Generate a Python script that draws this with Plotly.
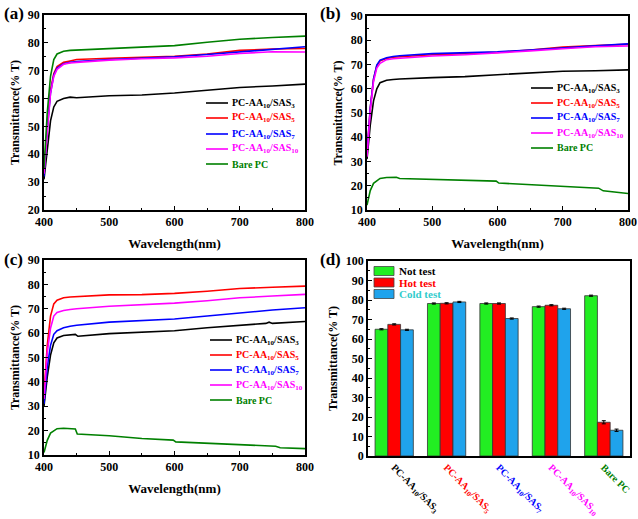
import plotly.graph_objects as go

# ---------------- data ----------------
wl = [400, 405, 410, 415, 420, 430, 440, 450, 500, 550, 600, 650, 700, 750, 800]

a_sas3 = [31, 42, 52, 57, 59, 60, 60.5, 60.3, 61, 61.3, 62, 63, 64, 64.5, 65.2]
a_sas5 = [33, 50, 63, 69, 71.5, 73, 73.5, 74, 74.5, 74.8, 75.2, 76, 77.3, 77.8, 78]
a_sas7 = [32, 49, 62, 68.5, 71, 72.5, 73, 73.3, 74, 74.5, 75, 75.8, 76.8, 77.8, 78.6]
a_sas10 = [33, 49, 62, 68, 70.5, 72.3, 72.8, 73, 73.8, 74.3, 74.6, 75.2, 76.2, 76.8, 76.7]
a_bare = [35, 55, 68, 74, 76, 77, 77.3, 77.4, 78.1, 78.4, 79, 80.2, 81.3, 81.9, 82.4]

b_sas3 = [31, 45, 55, 60, 62.5, 63.5, 63.8, 64, 64.6, 65, 65.8, 66.5, 67.2, 67.4, 67.8]
b_sas5 = [33, 52, 64, 69.5, 71.5, 72.5, 73, 73.2, 74, 74.5, 75, 76, 77.2, 77.8, 78.3]
b_sas7 = [33, 52, 64, 69.8, 71.8, 72.8, 73.3, 73.6, 74.5, 74.8, 75.2, 76, 77, 77.7, 78.5]
b_sas10 = [32, 51, 63, 68.5, 70.5, 72, 72.4, 72.6, 73.5, 74, 74.7, 75.6, 76.5, 77.3, 77.6]
b_bare_wl = [400, 405, 410, 420, 430, 445, 450, 500, 550, 598, 602, 650, 700, 755, 762, 800]
b_bare = [12, 18, 21, 23, 23.4, 23.5, 23.0, 22.7, 22.4, 21.9, 21.1, 20.5, 19.8, 19.0, 17.9, 16.8]

c_sas3_wl = [400, 405, 410, 415, 420, 430, 448, 452, 500, 550, 600, 650, 700, 740, 745, 750, 800]
c_sas3 = [30, 42, 51, 56, 58, 59, 59.5, 58.7, 59.8, 60.3, 61, 62.2, 63.3, 64, 64.5, 64, 64.8]
c_sas5 = [35, 55, 67, 72, 73.5, 74.5, 74.8, 75, 75.7, 75.8, 76.3, 77.2, 78.3, 78.8, 79.3]
c_sas7 = [31, 46, 55, 59.5, 61, 62.2, 62.8, 63.2, 64.5, 65, 65.8, 67, 68.3, 69.5, 70.4]
c_sas10 = [33, 52, 62, 67, 68.5, 69.3, 69.7, 70, 71, 71.5, 72.3, 73.3, 74.5, 75.2, 75.9]
c_bare_wl = [400, 405, 410, 420, 430, 448, 451, 500, 550, 598, 602, 650, 700, 755, 762, 800]
c_bare = [11, 16, 19, 20.8, 21, 20.7, 18.6, 17.9, 16.8, 16.1, 15.4, 14.8, 14.3, 13.6, 13, 12.6]

bar_cats = ["SAS3", "SAS5", "SAS7", "SAS10", "Bare"]
bar_ticktext = [
    '<span style="color:black">PC-AA<sub>10</sub>/SAS<sub>3</sub></span>',
    '<span style="color:red">PC-AA<sub>10</sub>/SAS<sub>5</sub></span>',
    '<span style="color:blue">PC-AA<sub>10</sub>/SAS<sub>7</sub></span>',
    '<span style="color:#ff00ff">PC-AA<sub>10</sub>/SAS<sub>10</sub></span>',
    '<span style="color:green">Bare PC</span>',
]
not_test = [65.0, 78.2, 78.2, 76.6, 82.2]
not_err = [0.3, 0.3, 0.3, 0.3, 0.3]
hot_test = [67.5, 78.3, 78.2, 77.3, 17.3]
hot_err = [0.3, 0.3, 0.3, 0.3, 0.8]
cold_test = [64.7, 79.0, 70.5, 75.5, 13.2]
cold_err = [0.3, 0.3, 0.3, 0.3, 0.6]

series_names = [
    'PC-AA<sub>10</sub>/SAS<sub>3</sub>',
    'PC-AA<sub>10</sub>/SAS<sub>5</sub>',
    'PC-AA<sub>10</sub>/SAS<sub>7</sub>',
    'PC-AA<sub>10</sub>/SAS<sub>10</sub>',
    'Bare PC',
]
series_colors = ["#000000", "#ff0000", "#0000ff", "#ff00ff", "#008000"]
bar_names = ["Not test", "Hot test", "Cold test"]
bar_colors = ["#22ee22", "#ff0000", "#1fa3ec"]
bar_text_colors = ["black", "#ff0000", "#33cccc"]

FONT = "Liberation Serif"
W, H = 638, 519
def px(x): return x / W
def py(y): return 1 - y / H

fig = go.Figure()

panels = [
    ("x", "y", [(wl, a_sas3), (wl, a_sas5), (wl, a_sas7), (wl, a_sas10), (wl, a_bare)]),
    ("x2", "y2", [(wl, b_sas3), (wl, b_sas5), (wl, b_sas7), (wl, b_sas10), (b_bare_wl, b_bare)]),
    ("x3", "y3", [(c_sas3_wl, c_sas3), (wl, c_sas5), (wl, c_sas7), (wl, c_sas10), (c_bare_wl, c_bare)]),
]
for xa, ya, data in panels:
    for (xs, ys), nm, col in zip(data, series_names, series_colors):
        fig.add_trace(go.Scatter(
            x=xs, y=ys, mode="lines", xaxis=xa, yaxis=ya, showlegend=False,
            line=dict(color=col, width=1.6), name=nm))

for nm, vals, err, col in zip(bar_names, [not_test, hot_test, cold_test],
                              [not_err, hot_err, cold_err], bar_colors):
    fig.add_trace(go.Bar(
        x=bar_cats, y=vals, xaxis="x4", yaxis="y4", showlegend=False,
        marker=dict(color=col, line=dict(color="#333333", width=0.8)),
        error_y=dict(type="data", array=err, color="black", thickness=1, width=2),
        name=nm))

def xaxis_lines(domain, anchor, title):
    return dict(domain=domain, anchor=anchor, range=[400, 800], dtick=100, automargin=False,
                showline=True, mirror=True, linecolor="black", linewidth=1.5,
                ticks="inside", ticklen=4, tickcolor="black",
                minor=dict(ticks="inside", ticklen=2, dtick=50, tickcolor="black"),
                showgrid=False, zeroline=False,
                tickfont=dict(family=FONT, size=12, color="black", weight="bold"),
                title=dict(text=title, font=dict(family=FONT, size=13, color="black", weight="bold"), standoff=11))

def yaxis_lines(domain, anchor, rng, dtick=10):
    return dict(domain=domain, anchor=anchor, range=rng, dtick=dtick, automargin=False,
                showline=True, mirror=True, linecolor="black", linewidth=1.5,
                ticks="inside", ticklen=4, tickcolor="black",
                minor=dict(ticks="inside", ticklen=2, dtick=dtick / 2, tickcolor="black"),
                showgrid=False, zeroline=False,
                tickfont=dict(family=FONT, size=12, color="black", weight="bold"),
                title=dict(text="Transmittance(% T)", font=dict(family=FONT, size=12, color="black", weight="bold"), standoff=6))

fig.update_layout(
    width=W, height=H, margin=dict(l=0, r=0, t=0, b=0, autoexpand=False),
    plot_bgcolor="white", paper_bgcolor="white",
    barmode="group", bargap=0.27, bargroupgap=0,
    showlegend=False,
    xaxis=xaxis_lines([px(44), px(305)], "y", "Wavelength(nm)"),
    yaxis=yaxis_lines([py(210), py(15)], "x", [20, 90]),
    xaxis2=xaxis_lines([px(367), px(628)], "y2", "Wavelength(nm)"),
    yaxis2=yaxis_lines([py(210), py(16)], "x2", [10, 90]),
    xaxis3=xaxis_lines([px(44), px(305)], "y3", "Wavelength(nm)"),
    yaxis3=yaxis_lines([py(455), py(260)], "x3", [10, 90]),
    xaxis4=dict(domain=[px(368), px(630)], anchor="y4", showline=True, mirror=True, automargin=False,
                linecolor="black", linewidth=1.5, ticks="", showgrid=False,
                tickmode="array", tickvals=bar_cats, ticktext=bar_ticktext, tickangle=45,
                tickfont=dict(family=FONT, size=10, color="black", weight="bold")),
    yaxis4=yaxis_lines([py(456), py(261)], "x4", [0, 100]),
)

# ---- legends (drawn manually for compact spacing) ----
def line_legend(x0, x1, xt, ys):
    for nm, col, y in zip(series_names, series_colors, ys):
        fig.add_shape(type="line", xref="paper", yref="paper",
                      x0=px(x0), x1=px(x1), y0=py(y), y1=py(y),
                      line=dict(color=col, width=1.6))
        fig.add_annotation(text=nm, x=px(xt), y=py(y), xref="paper", yref="paper",
                           xanchor="left", yanchor="middle", showarrow=False,
                           font=dict(family=FONT, size=10, color=col, weight="bold"))

line_legend(206, 228, 230, [103, 118, 134, 149, 164])
line_legend(531, 553, 555, [88, 103, 118, 133, 148])
line_legend(210, 232, 234, [340, 355, 370, 385, 400])

for nm, col, tcol, y in zip(bar_names, bar_colors, bar_text_colors, [271, 282.5, 294]):
    fig.add_shape(type="rect", xref="paper", yref="paper",
                  x0=px(374), x1=px(394), y0=py(y - 4.5), y1=py(y + 4.5),
                  fillcolor=col, line=dict(color="#444444", width=0.8))
    fig.add_annotation(text=nm, x=px(397), y=py(y), xref="paper", yref="paper",
                       xanchor="left", yanchor="middle", showarrow=False,
                       font=dict(family=FONT, size=11, color=tcol, weight="bold"))

for txt, x, y in [("(a)", 2, 2), ("(b)", 318, 2), ("(c)", 2, 248), ("(d)", 318, 248)]:
    fig.add_annotation(text=txt, x=px(x), y=py(y), xref="paper", yref="paper",
                       xanchor="left", yanchor="top", showarrow=False,
                       font=dict(family=FONT, size=17, color="black", weight="bold"))

fig.write_html("out.html", config={"displayModeBar": False},
               post_script="document.body.style.margin='0';document.body.style.padding='0';")
